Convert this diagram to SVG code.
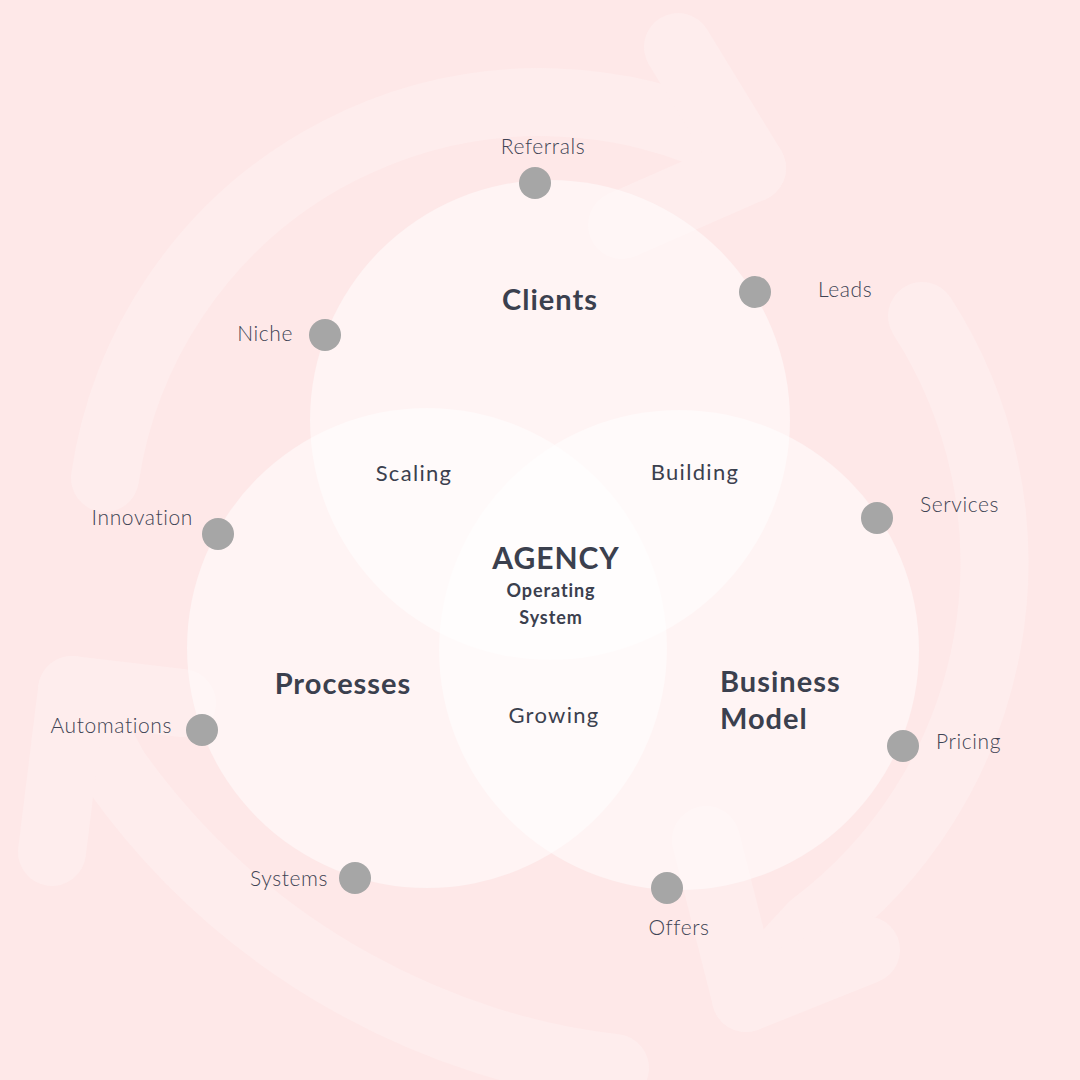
<svg xmlns="http://www.w3.org/2000/svg" width="1080" height="1080" viewBox="0 0 1080 1080">
<style>
.arrow{fill:none;stroke:#feeded;stroke-width:68;stroke-linecap:round;stroke-linejoin:round}
.ring{fill:#ffffff;fill-opacity:0.5}
.dot{fill:#a6a6a6}
.lbl{font-family:Lato,"Liberation Sans",sans-serif;font-weight:300;font-size:21px;fill:#3f4454;letter-spacing:0.6px}
.title{font-family:Lato,"Liberation Sans",sans-serif;font-weight:700;font-size:29px;fill:#3b404e;letter-spacing:1px}
.mid{font-family:Lato,"Liberation Sans",sans-serif;font-weight:400;font-size:22px;fill:#3b404e;letter-spacing:1.3px}
.sub{font-family:Lato,"Liberation Sans",sans-serif;font-weight:700;font-size:18px;fill:#3b404e;letter-spacing:0.9px}
</style>
<rect width="1080" height="1080" fill="#fee8e8"/>
<g id="connectors">
  <path class="arrow" d="M 105 478 A 440 440 0 0 1 740 150 L 752 168"/>
  <path class="arrow" d="M 678 47 L 752 168 L 622 225"/>
  <path class="arrow" d="M 922 316 A 455 455 0 0 1 813 926 L 746 998"/>
  <path class="arrow" d="M 706 840 L 746 998 L 866 950"/>
  <path class="arrow" d="M 615 1068 C 450 1050 250 960 115 770 L 72 690"/>
  <path class="arrow" d="M 52 852 L 72 690 L 182 703"/>
</g>
<g id="clients">
  <circle class="ring" cx="550" cy="420" r="240"/>
  <text class="title" x="550" y="310" text-anchor="middle">Clients</text>
</g>
<g id="processes">
  <circle class="ring" cx="427" cy="648" r="240"/>
  <text class="title" x="343" y="694" text-anchor="middle">Processes</text>
</g>
<g id="business-model">
  <circle class="ring" cx="679" cy="650" r="240"/>
  <text class="title" x="720" y="692">Business</text>
  <text class="title" x="720" y="729">Model</text>
</g>
<g id="scaling"><text class="mid" x="414" y="481" text-anchor="middle">Scaling</text></g>
<g id="building"><text class="mid" x="695" y="480" text-anchor="middle">Building</text></g>
<g id="growing"><text class="mid" x="554" y="723" text-anchor="middle">Growing</text></g>
<g id="agency">
  <text class="title" x="556" y="569" text-anchor="middle" style="font-size:30px">AGENCY</text>
  <text class="sub" x="551" y="597" text-anchor="middle">Operating</text>
  <text class="sub" x="551" y="624" text-anchor="middle">System</text>
</g>
<g id="referrals"><circle class="dot" cx="535" cy="183" r="16"/><text class="lbl" x="543" y="154" text-anchor="middle">Referrals</text></g>
<g id="leads"><circle class="dot" cx="755" cy="292" r="16"/><text class="lbl" x="818" y="297">Leads</text></g>
<g id="niche"><circle class="dot" cx="325" cy="335" r="16"/><text class="lbl" x="293" y="341" text-anchor="end">Niche</text></g>
<g id="services"><circle class="dot" cx="877" cy="518" r="16"/><text class="lbl" x="920" y="512">Services</text></g>
<g id="innovation"><circle class="dot" cx="218" cy="534" r="16"/><text class="lbl" x="193" y="525" text-anchor="end">Innovation</text></g>
<g id="automations"><circle class="dot" cx="202" cy="730" r="16"/><text class="lbl" x="172" y="733" text-anchor="end">Automations</text></g>
<g id="pricing"><circle class="dot" cx="903" cy="746" r="16"/><text class="lbl" x="936" y="749">Pricing</text></g>
<g id="systems"><circle class="dot" cx="355" cy="878" r="16"/><text class="lbl" x="328" y="886" text-anchor="end">Systems</text></g>
<g id="offers"><circle class="dot" cx="667" cy="888" r="16"/><text class="lbl" x="679" y="935" text-anchor="middle">Offers</text></g>
</svg>
